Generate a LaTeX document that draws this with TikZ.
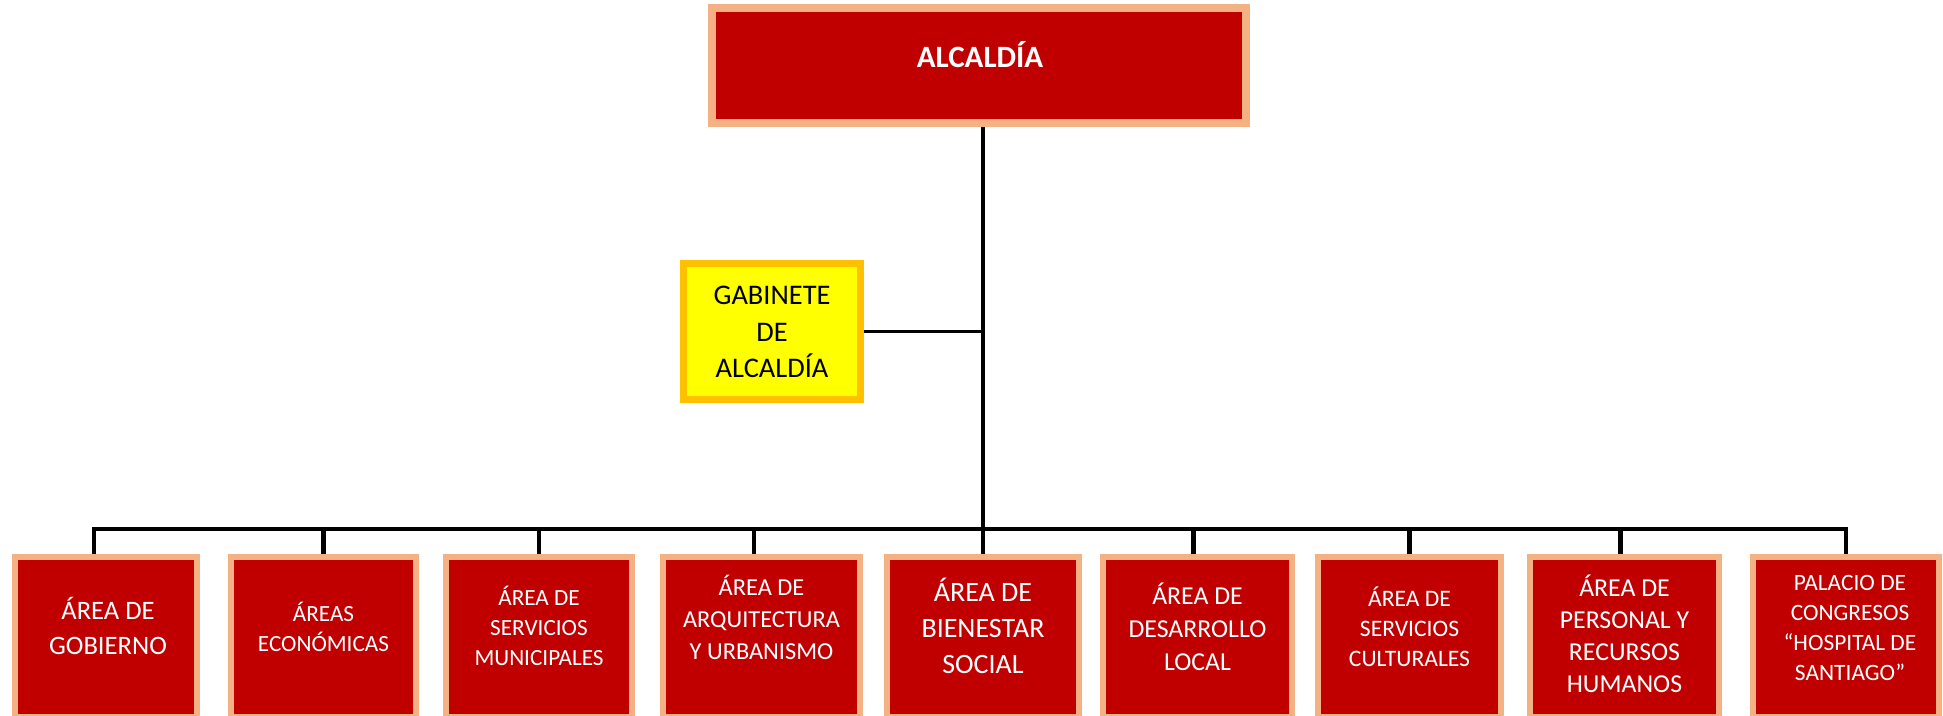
\documentclass[tikz,border=0pt]{standalone}
\usepackage{fontspec}
\setmainfont{Carlito}
\definecolor{boxred}{HTML}{C00000}
\definecolor{peach}{HTML}{F4B183}
\definecolor{ylw}{HTML}{FFFF00}
\definecolor{gold}{HTML}{FFC000}
\tikzset{
  rbox/.style={draw=peach, fill=boxred, line width=3pt, inner sep=0pt, minimum height=80pt},
  topbox/.style={draw=peach, fill=boxred, line width=4pt, inner sep=0pt, minimum width=267pt, minimum height=57.5pt},
  gabbox/.style={draw=gold, fill=ylw, line width=3.5pt, inner sep=0pt, minimum width=88.5pt, minimum height=68pt},
  wtxt/.style={text=white, align=center, inner sep=0pt},
  conn/.style={draw=black, line width=2.4pt},
  thinconn/.style={draw=black, line width=1.9pt}
}
\newcommand{\fs}[2]{\fontsize{#1}{#2}\selectfont}
\begin{document}
\begin{tikzpicture}[x=0.5pt,y=-0.5pt]
\useasboundingbox (0,0) rectangle (1943,716);
% top
\node[topbox] (top) at (979,65.5) {};
\node[wtxt, font=\fs{15.5}{18}\bfseries] (ttop) at (980,55) {ALCALDÍA};
% gabinete
\node[gabbox] (gab) at (772,331.5) {};
\node[align=center, inner sep=0pt, font=\fs{14.2}{18.3}] (tgab) at (772,332) {GABINETE\\DE\\ALCALDÍA};
% bottom boxes
\node[rbox, minimum width=91pt]   (b1) at (106,637) {};
\node[rbox, minimum width=92.5pt] (b2) at (323.5,637) {};
\node[rbox, minimum width=93pt]   (b3) at (539,637) {};
\node[rbox, minimum width=98.5pt] (b4) at (761.5,637) {};
\node[rbox, minimum width=96pt]   (b5) at (983,637) {};
\node[rbox, minimum width=94.5pt] (b6) at (1197.5,637) {};
\node[rbox, minimum width=91.5pt] (b7) at (1409.5,637) {};
\node[rbox, minimum width=94.5pt] (b8) at (1624.5,637) {};
\node[rbox, minimum width=93pt]   (b9) at (1846,637) {};
\node[wtxt, font=\fs{13.3}{17.5}] (t1) at (108,626) {ÁREA DE\\GOBIERNO};
\node[wtxt, font=\fs{11.6}{15}] (t2) at (323.5,627) {ÁREAS\\ECONÓMICAS};
\node[wtxt, font=\fs{11.6}{15}] (t3) at (539,626) {ÁREA DE\\SERVICIOS\\MUNICIPALES};
\node[wtxt, font=\fs{12.2}{16}] (t4) at (761.5,617) {ÁREA DE\\ARQUITECTURA\\Y URBANISMO};
\node[wtxt, font=\fs{14}{18}] (t5) at (983,626) {ÁREA DE\\BIENESTAR\\SOCIAL};
\node[wtxt, font=\fs{12.9}{16.5}] (t6) at (1197.5,627) {ÁREA DE\\DESARROLLO\\LOCAL};
\node[wtxt, font=\fs{11.8}{15}] (t7) at (1409.5,627) {ÁREA DE\\SERVICIOS\\CULTURALES};
\node[wtxt, font=\fs{12.9}{16}] (t8) at (1624.5,634) {ÁREA DE\\PERSONAL Y\\RECURSOS\\HUMANOS};
\node[wtxt, font=\fs{11.7}{15}] (t9) at (1850,628) {PALACIO DE\\CONGRESOS\\“HOSPITAL DE\\SANTIAGO”};
% connectors
\coordinate (bus) at (0,529);
\draw[conn] (b5.north |- top.south) -- (b5.north);
\draw[thinconn] (gab.east) -- (gab.east -| b5.north);
\draw[conn] ([xshift=-6pt]b1.north) |- (bus -| b9.north) -- (b9.north);
\draw[conn] (b2.north) -- (b2.north |- bus);
\draw[conn] (b3.north) -- (b3.north |- bus);
\draw[conn] ([xshift=-3.75pt]b4.north) -- ([xshift=-3.75pt]b4.north |- bus);
\draw[conn] ([xshift=-2pt]b6.north) -- ([xshift=-2pt]b6.north |- bus);
\draw[conn] (b7.north) -- (b7.north |- bus);
\draw[conn] ([xshift=-2pt]b8.north) -- ([xshift=-2pt]b8.north |- bus);
\end{tikzpicture}
\end{document}
